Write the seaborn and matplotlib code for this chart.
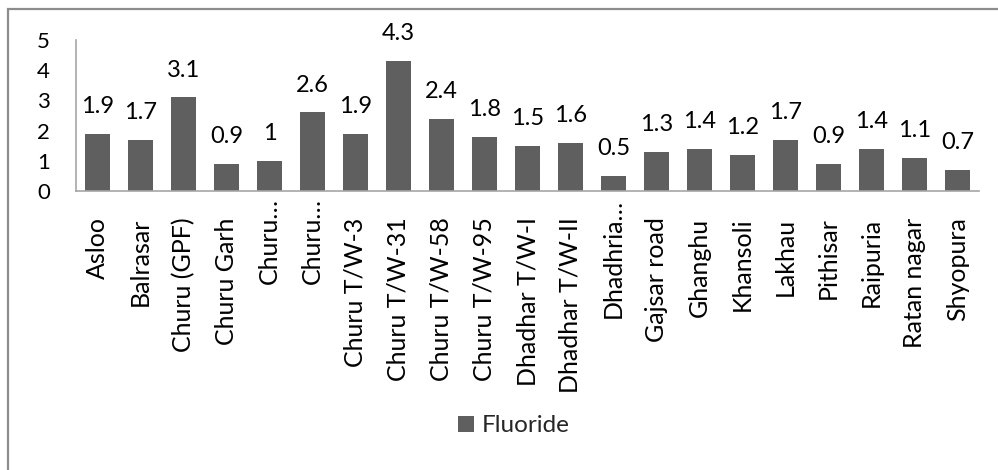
import matplotlib
matplotlib.use("Agg")
import matplotlib.pyplot as plt
import matplotlib.transforms as mtransforms
import seaborn as sns
import pandas as pd
from matplotlib.patches import Rectangle, Patch

categories = ["Asloo", "Balrasar", "Churu (GPF)", "Churu Garh", "Churu…", "Churu…",
              "Churu T/W-3", "Churu T/W-31", "Churu T/W-58", "Churu T/W-95",
              "Dhadhar T/W-I", "Dhadhar T/W-II", "Dhadhria…", "Gajsar road",
              "Ghanghu", "Khansoli", "Lakhau", "Pithisar", "Raipuria",
              "Ratan nagar", "Shyopura"]
fluoride = [1.9, 1.7, 3.1, 0.9, 1.0, 2.6, 1.9, 4.3, 2.4, 1.8, 1.5, 1.6, 0.5,
            1.3, 1.4, 1.2, 1.7, 0.9, 1.4, 1.1, 0.7]
value_labels = ["1.9", "1.7", "3.1", "0.9", "1", "2.6", "1.9", "4.3", "2.4", "1.8",
                "1.5", "1.6", "0.5", "1.3", "1.4", "1.2", "1.7", "0.9", "1.4",
                "1.1", "0.7"]
yticks = [0, 1, 2, 3, 4, 5]
series_name = "Fluoride"

sns.set_theme(style="white")
plt.rcParams["font.family"] = ["Lato", "DejaVu Sans"]

BAR = "#5f5f5f"

df = pd.DataFrame({"pos": range(len(categories)), "val": fluoride})

fig = plt.figure(figsize=(9.98, 4.70), dpi=100)
ax = fig.add_axes([76/998, 1-191/470, (979-76)/998, (191-40)/470])
sns.barplot(data=df, x="pos", y="val", color=BAR, saturation=1, width=0.56,
            ax=ax)
for p in ax.patches:
    p.set_edgecolor("none")

ax.set_xlim(-0.5, len(categories) - 0.5)
ax.set_ylim(0, 5)
ax.set_yticks(yticks)
ax.set_yticklabels([str(t) for t in yticks], fontsize=16, color="black")
ax.set_xticks(range(len(categories)))
ax.set_xticklabels(categories, rotation=90, fontsize=18, color="black")
ax.tick_params(axis="x", length=0, pad=19)
ax.set_xlabel("")
ax.set_ylabel("")
for s in ["top", "right"]:
    ax.spines[s].set_visible(False)
for s in ["left", "bottom"]:
    ax.spines[s].set_color("#a6a6a6")
    ax.spines[s].set_linewidth(1.2)
for lbl in ax.get_yticklabels():
    lbl.set_horizontalalignment("left")
ax.tick_params(axis="y", length=0, pad=28)

# truncated labels overflow upward
for lbl in ax.get_xticklabels():
    if lbl.get_text().endswith("…"):
        lbl.set_transform(lbl.get_transform() +
                          mtransforms.ScaledTranslation(0, 19/100, fig.dpi_scale_trans))

for i, (v, t) in enumerate(zip(fluoride, value_labels)):
    ax.annotate(t, (i, v), xytext=(0, 12), textcoords="offset points",
                ha="center", va="bottom", fontsize=17, color="black",
                annotation_clip=False)

handle = Patch(facecolor=BAR, edgecolor="none", label=series_name)
fig.legend(handles=[handle], loc="center", bbox_to_anchor=(514/998, 1-426/470),
           frameon=False, fontsize=17.5, handlelength=0.65, handleheight=0.65,
           handletextpad=0.35)

fig.patches.append(Rectangle((8/998, -0.05), 1.1, (470-9)/470 + 0.05,
                             transform=fig.transFigure, fill=False,
                             edgecolor="#8c8c8c", linewidth=1.6))

fig.savefig("out.png", dpi=100, facecolor="white")
